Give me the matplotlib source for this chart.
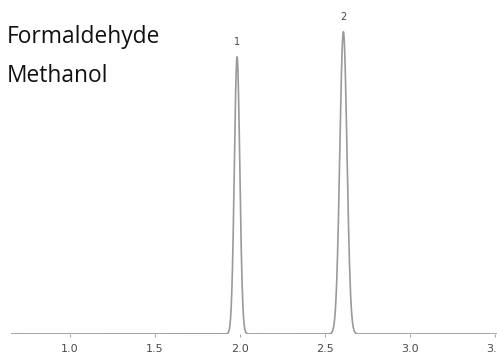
import numpy as np
import matplotlib.pyplot as plt

# Peak table: retention time (min), height, width (sigma)
peak_labels = ['1', '2']
retention_times = [1.982, 2.607]
peak_heights = [0.83, 0.905]
peak_sigmas = [0.016, 0.021]
compounds = ['Formaldehyde', 'Methanol']
x_ticks = [1.0, 1.5, 2.0, 2.5, 3.0, 3.5]

time = np.linspace(0.6, 3.6, 3000)
signal = np.zeros_like(time)
for rt, h, s in zip(retention_times, peak_heights, peak_sigmas):
    signal += h * np.exp(-0.5 * ((time - rt) / s) ** 2)

fig = plt.figure(figsize=(4.97, 3.58), dpi=100)
ax = fig.add_axes([11 / 497, 24 / 358, 1 - 11 / 497, 334 / 358])
ax.plot(time, signal, color='#9a9a9a', linewidth=1.2)
ax.set_xlim(0.653, 3.51)
ax.set_ylim(0, 1)

for lbl, rt, h in zip(peak_labels, retention_times, peak_heights):
    ax.text(rt, h + 0.03, lbl, ha='center', va='bottom', fontsize=7, color='#444444')

for sp in ax.spines.values():
    sp.set_visible(False)
ax.set_yticks([])
ax.set_xticks(x_ticks)
ax.set_xticklabels([f'{t:.1f}' for t in x_ticks])
ax.tick_params(axis='x', length=2.5, width=0.8, color='#aaaaaa', labelsize=8,
               labelcolor='#4a4a4a', pad=4.5)

fig.text(7 / 497, 1 - 43 / 358, compounds[0], fontsize=16.4, family='Open Sans',
         va='baseline', ha='left', color='#111111')
fig.text(7 / 497, 1 - 82 / 358, compounds[1], fontsize=16.4, family='Open Sans',
         va='baseline', ha='left', color='#111111')

fig.savefig('out.png', dpi=100)
